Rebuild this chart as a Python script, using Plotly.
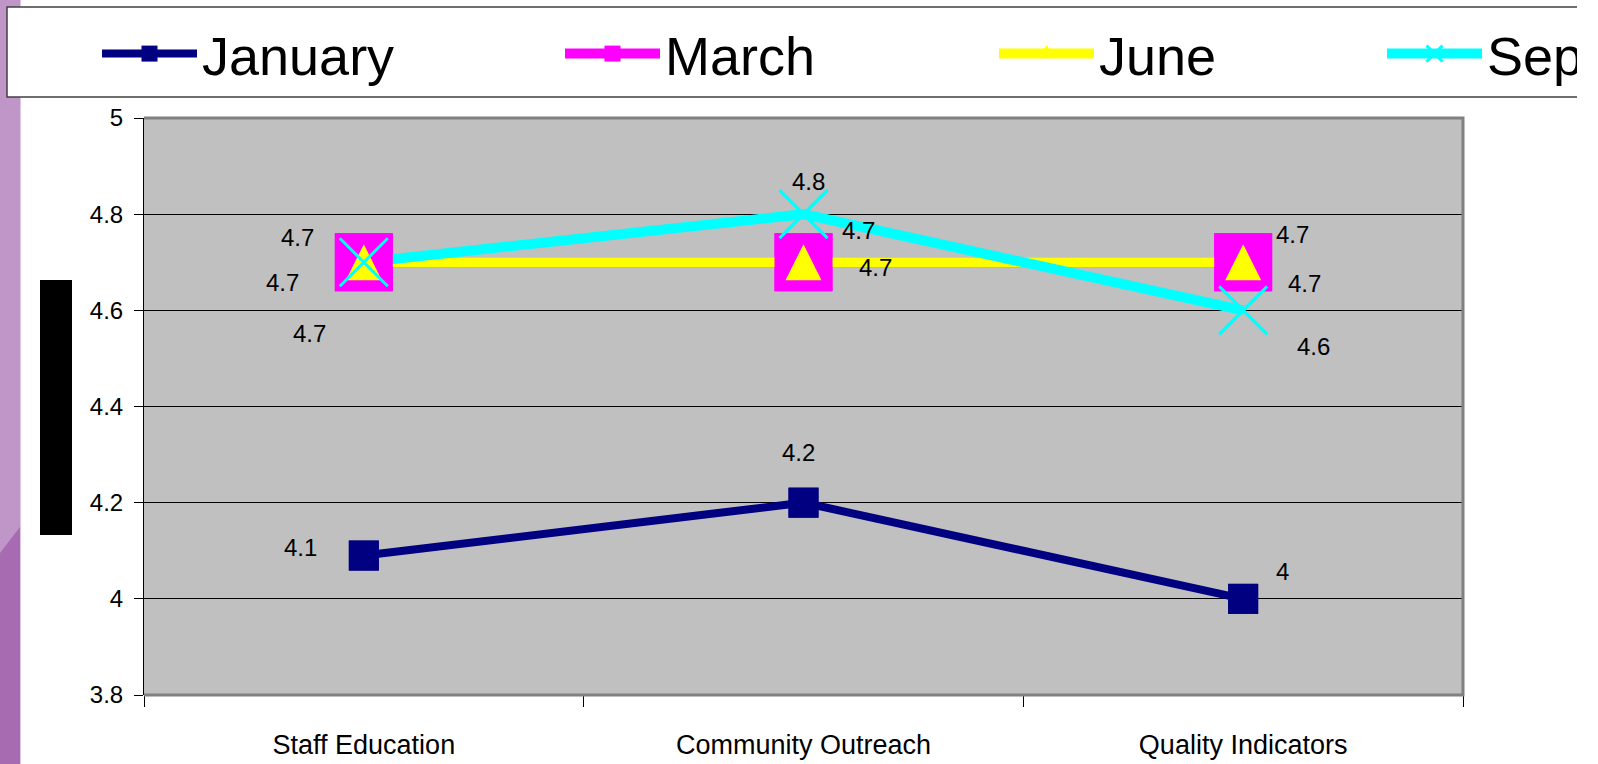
import plotly.graph_objects as go

# ---------------- data ----------------
categories = ["Staff Education", "Community Outreach", "Quality Indicators"]
series_names = ["January", "March", "June", "September"]
january = [4.09, 4.2, 4.0]
march = [4.7, 4.7, 4.7]
june = [4.7, 4.7, 4.7]
september = [4.7, 4.8, 4.6]
y_tick_values = [3.8, 4.0, 4.2, 4.4, 4.6, 4.8, 5.0]
y_tick_labels = ["3.8", "4", "4.2", "4.4", "4.6", "4.8", "5"]

series_values = [january, march, june, september]

# ---------------- styles ----------------
colors = ["#000080", "#FF00FF", "#FFFF00", "#00FFFF"]
line_widths = [8, 10, 10, 10]
REG = "Liberation Sans, Arial, sans-serif"

# data label offsets in px (dx right, dy down) per series per category
label_dx = [[-63, -5, 39], [-66, 55, 49], [-81, 72, 61], [-54, 5, 70]]
label_dy = [[-8, -50, -27], [-25, -32, -28], [20, 5, 21], [71, -33, 36]]

# legend geometry (px)
legend_left_px = [97, 560, 994, 1382]
LEGEND_ITEMWIDTH = 95

# figure geometry (px)
W, H = 1577, 764
PL, PR, PT, PB = 144, 1463, 118, 695


def px2x(px):
    return (px - PL) / (PR - PL)


def py2y(py):
    return (PB - py) / (PB - PT)


def fmt(v):
    s = f"{v:.1f}"
    return s[:-2] if s.endswith(".0") else s


fig = go.Figure()

legend_ids = ["legend", "legend2", "legend3", "legend4"]

# Pass 1: lines (+ legend carriers)
pass1_symbols = ["square", "square", "triangle-up", "x-thin"]
pass1_sizes = [30, 58, 16, 48]
for i, name in enumerate(series_names):
    fig.add_trace(go.Scatter(
        x=categories, y=series_values[i], name=name, mode="lines+markers",
        line=dict(color=colors[i], width=line_widths[i]),
        marker=dict(symbol=pass1_symbols[i], size=pass1_sizes[i], color=colors[i],
                    line=dict(color=colors[i], width=3 if i == 3 else 0)),
        legend=legend_ids[i], showlegend=True, hoverinfo="skip",
    ))

# Pass 2: markers on top of every line
pass2_symbols = ["square", "square", "arrow-down", "x-thin"]
pass2_sizes = [30, 58, 36, 48]
pass2_angles = [0, 0, 180, 0]
pass2_standoff = [0, 0, 18, 0]
for i, name in enumerate(series_names):
    fig.add_trace(go.Scatter(
        x=categories, y=series_values[i], name=name, mode="markers",
        marker=dict(symbol=pass2_symbols[i], size=pass2_sizes[i], color=colors[i],
                    angle=pass2_angles[i], standoff=pass2_standoff[i],
                    line=dict(color=colors[i], width=3 if i == 3 else 0)),
        showlegend=False, hoverinfo="skip",
    ))

# data labels
for i in range(len(series_names)):
    for j, c in enumerate(categories):
        fig.add_annotation(
            x=c, y=series_values[i][j], xref="x", yref="y", text=fmt(series_values[i][j]),
            showarrow=False, xshift=label_dx[i][j], yshift=-label_dy[i][j],
            font=dict(family=REG, size=24, color="black"),
        )

shapes = [
    # purple slide strip
    dict(type="rect", xref="paper", yref="paper", x0=px2x(0), x1=px2x(20), y0=py2y(H), y1=py2y(0),
         fillcolor="#C095C8", line=dict(width=0), layer="below"),
    dict(type="path", xref="paper", yref="paper",
         path=f"M {px2x(0)},{py2y(553)} L {px2x(20)},{py2y(527)} L {px2x(20)},{py2y(H)} L {px2x(0)},{py2y(H)} Z",
         fillcolor="#A66BB0", line=dict(width=0), layer="below"),
    dict(type="line", xref="paper", yref="paper", x0=px2x(20.5), x1=px2x(20.5), y0=py2y(H), y1=py2y(0),
         line=dict(color="#DCC6E2", width=1), layer="below"),
    # legend box
    dict(type="rect", xref="paper", yref="paper", x0=px2x(7), x1=px2x(1800), y0=py2y(97), y1=py2y(7),
         fillcolor="white", line=dict(color="#404040", width=1.5), layer="below"),
    # black bar
    dict(type="rect", xref="paper", yref="paper", x0=px2x(40), x1=px2x(72), y0=py2y(535), y1=py2y(280),
         fillcolor="black", line=dict(width=0), layer="below"),
    # plot area border (top, right, bottom)
    dict(type="path", xref="paper", yref="paper", path="M 0,1 L 1,1 L 1,0 L 0,0",
         line=dict(color="#808080", width=3), layer="above"),
]

layout_legends = {}
for i, lid in enumerate(legend_ids):
    layout_legends[lid] = dict(
        orientation="h", x=px2x(legend_left_px[i]), xanchor="left",
        y=py2y(54), yanchor="middle", bgcolor="rgba(0,0,0,0)", borderwidth=0,
        font=dict(family=REG, size=54, color="black"), itemwidth=LEGEND_ITEMWIDTH,
    )

fig.update_layout(
    width=W, height=H,
    margin=dict(l=PL, r=W - PR, t=PT, b=H - PB, autoexpand=False),
    paper_bgcolor="white", plot_bgcolor="#C0C0C0",
    shapes=shapes,
    **layout_legends,
)

fig.update_xaxes(
    type="category", range=[-0.5, len(categories) - 0.5], tickson="boundaries",
    ticks="outside", ticklen=11, tickcolor="black", tickwidth=1,
    showline=False, showgrid=False, zeroline=False,
    tickfont=dict(family=REG, size=27, color="black"), ticklabelstandoff=31,
)
fig.update_yaxes(
    range=[3.8, 5.0], tickmode="array", tickvals=y_tick_values, ticktext=y_tick_labels,
    showgrid=True, gridcolor="black", gridwidth=1, zeroline=False,
    showline=True, linecolor="black", linewidth=1,
    ticks="outside", ticklen=9, tickcolor="black",
    tickfont=dict(family=REG, size=24, color="black"), ticklabelstandoff=6,
)

fig.write_html(
    "out.html",
    config={"displayModeBar": False},
    post_script="document.body.style.margin='0';document.body.style.overflow='hidden';",
)
